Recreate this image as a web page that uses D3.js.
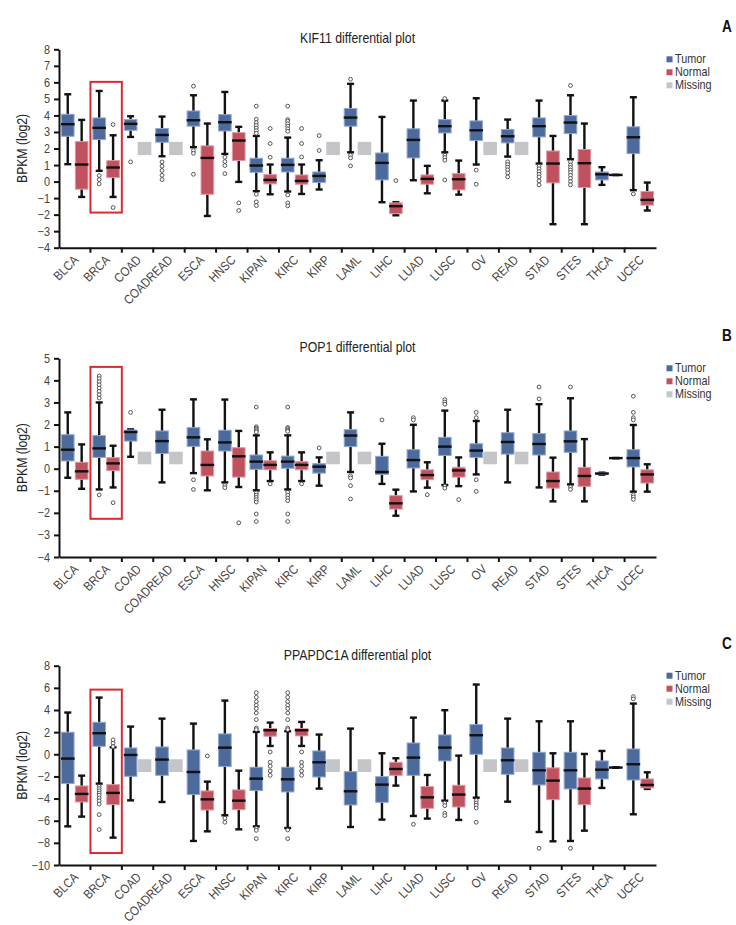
<!DOCTYPE html>
<html><head><meta charset="utf-8">
<script src="https://cdn.jsdelivr.net/npm/d3@7"></script>
<style>
body{margin:0;background:#fff;}
svg{display:block;font-family:"Liberation Sans",Arial,sans-serif;}
</style></head>
<body>
<svg id="chart" width="736" height="925"></svg>
<script>
const categories = ["BLCA","BRCA","COAD","COADREAD","ESCA","HNSC","KIPAN","KIRC","KIRP","LAML","LIHC","LUAD","LUSC","OV","READ","STAD","STES","THCA","UCEC"];
const legendLabels = ["Tumor","Normal","Missing"];

// each box: [whiskerLow, q1, median, q3, whiskerHigh]; null = missing
const kif11Tumor = [[1.05,2.74,3.47,4.07,5.28],[0.65,2.54,3.25,3.85,5.48],[2.70,3.10,3.49,3.75,3.95],[1.53,2.38,2.82,3.21,3.93],[2.08,3.35,3.71,4.27,5.22],[1.67,3.06,3.59,4.05,5.42],[-0.58,0.56,0.97,1.41,2.76],[-0.60,0.58,1.01,1.41,2.66],[-0.48,-0.06,0.34,0.58,1.29],[1.77,3.35,3.87,4.42,5.91],[-1.25,0.10,1.13,1.73,3.91],[0.08,1.43,2.52,3.19,4.90],[1.77,2.94,3.35,3.75,4.90],[1.03,2.48,3.10,3.67,5.04],[1.51,2.34,2.74,3.15,3.75],[1.09,2.70,3.35,3.85,4.90],[1.35,2.90,3.57,3.99,5.22],[-0.20,0.10,0.44,0.58,0.87],[-0.52,1.69,2.68,3.31,5.10]];
const kif11TumorOut = [[],[0.36,0.12,-0.14],[1.19],[1.19,0.93,0.67,0.38,0.12],[5.77,1.88,1.71,0.44],[1.47,1.21,0.97,0.48],[4.56,3.77,3.56,3.40,3.24,3.08,2.92,-0.77,-1.23,-1.45],[4.56,3.75,3.65,3.50,3.35,3.19,3.04,-0.81,-1.29,-1.47],[2.78,1.88],[6.19,1.59,1.43,0.95],[],[],[5.02,1.59,1.45,1.29,0.10],[0.69,-0.16],[1.19,1.03,0.87,0.71,0.52,0.28],[0.93,0.77,0.60,0.44,0.28,0.04,-0.20],[5.81,1.19,1.00,0.85,0.70,0.55,0.38,0.20,0.00,-0.20],[],[-0.75]];
const kif11Normal = [[-0.93,-0.46,1.03,2.42,3.73],[-0.93,0.24,0.85,1.27,2.80],null,null,[-2.08,-0.77,1.43,2.16,3.51],[-0.02,1.27,2.48,2.96,3.31],[-0.77,-0.14,0.10,0.42,1.03],[-0.75,-0.16,0.04,0.40,1.03],null,null,[-2.04,-1.94,-1.49,-1.29,-1.25],[-0.71,-0.16,0.16,0.40,0.95],[-0.79,-0.50,0.14,0.48,1.27],null,null,[-2.58,-0.08,1.09,1.85,2.76],[-2.58,-0.36,1.11,1.94,3.51],[0.40,0.40,0.40,0.40,0.40],[-1.75,-1.43,-1.11,-0.60,-0.06]];
const kif11NormalOut = [[],[3.45,-1.57],[],[],[],[-1.29,-1.75],[3.21,2.30,1.47],[3.21,2.30,1.49],[],[],[0.06],[],[],[],[],[],[],[],[]];
const kif11Missing = [1.6, 2.4];
const kif11Highlight = [-1.875, 6.03];
const kif11Ticks = [-4,-3,-2,-1,0,1,2,3,4,5,6,7,8];

const pop1Tumor = [[-0.41,0.35,0.86,1.54,2.55],[-0.94,0.51,0.92,1.50,3.00],[0.54,1.25,1.66,1.75,1.78],[-0.62,0.69,1.25,1.71,2.67],[-0.20,1.01,1.42,1.86,3.14],[-0.62,0.80,1.19,1.74,3.13],[-0.98,-0.03,0.32,0.62,1.51],[-0.94,0.02,0.32,0.57,1.51],[-0.77,-0.20,0.09,0.23,0.51],[-0.15,1.00,1.50,1.77,2.55],[-0.69,-0.26,-0.15,0.56,1.13],[-1.03,0.03,0.39,0.86,1.99],[-0.74,0.60,1.00,1.42,2.63],[-0.26,0.51,0.82,1.13,2.16],[-0.62,0.66,1.21,1.63,2.67],[-0.85,0.62,1.12,1.59,2.92],[-0.71,0.74,1.24,1.71,3.19],[-0.27,-0.26,-0.22,-0.19,-0.18],[-1.04,0.08,0.48,0.86,1.98]];
const pop1TumorOut = [[],[4.20,4.08,3.94,3.80,3.65,3.50,3.35,3.20,-1.19],[2.55],[],[-0.50,-0.94],[-0.76,-0.86],[2.79,1.90,1.84,1.78,1.72,1.66,-1.10,-1.20,-1.30,-1.40,-1.51,-2.05,-2.39],[2.79,1.87,1.81,1.75,1.69,-1.07,-1.20,-1.33,-1.45,-2.05,-2.39],[0.94],[-0.32,-0.42,-0.77,-1.37],[2.21],[2.31,2.21],[3.13,3.02,2.92,-0.79,-0.88],[2.55,2.31,-0.50,-1.03],[],[3.70,3.16],[3.70,-0.83,-0.94],[],[3.28,2.55,2.31,2.21,-1.18,-1.28,-1.39]];
const pop1Normal = [[-0.91,-0.48,-0.12,0.29,1.10],[-0.85,-0.09,0.24,0.50,1.04],null,null,[-0.98,-0.33,0.17,0.80,1.33],[-0.83,-0.38,0.56,0.95,1.71],[-0.56,-0.05,0.17,0.36,0.74],[-0.56,-0.05,0.17,0.32,0.74],null,null,[-2.13,-1.83,-1.57,-1.22,-0.95],[-0.86,-0.50,-0.29,-0.05,0.29],[-0.79,-0.38,-0.08,0.06,0.51],null,null,[-1.48,-0.88,-0.56,-0.15,0.50],[-1.48,-0.80,-0.33,0.06,1.34],[0.48,0.48,0.48,0.48,0.48],[-1.04,-0.65,-0.26,-0.05,0.20]];
const pop1NormalOut = [[],[-1.54],[],[],[],[-2.45],[-0.69],[-0.69],[],[],[],[-1.18],[-1.40],[],[],[],[],[],[]];
const pop1Missing = [0.2, 0.77];
const pop1Highlight = [-2.27, 4.61];
const pop1Ticks = [-4,-3,-2,-1,0,1,2,3,4,5];

const ppapTumor = [[-6.51,-2.65,-0.39,1.99,3.77],[-2.65,0.72,1.90,2.89,5.12],[-4.16,-1.99,-0.06,0.57,2.50],[-4.31,-1.90,-0.48,0.66,3.22],[-7.83,-3.64,-1.60,0.39,2.77],[-5.51,-1.11,0.60,1.84,4.85],[-6.51,-3.28,-2.20,-1.17,2.02],[-6.66,-3.40,-2.26,-1.17,2.08],[-3.10,-2.05,-0.72,0.30,1.78],[-6.57,-4.58,-3.34,-1.57,2.32],[-5.90,-4.34,-2.74,-2.02,0.09],[-5.57,-1.90,-0.30,1.02,3.31],[-4.19,-0.60,0.60,1.75,3.98],[-3.92,0.00,1.72,2.68,6.30],[-4.28,-1.81,-0.54,0.57,3.22],[-7.02,-2.77,-1.45,0.18,2.98],[-7.83,-3.13,-1.45,0.18,2.98],[-3.04,-2.23,-1.39,-0.60,0.30],[-5.42,-2.32,-0.90,0.48,4.58]];
const ppapTumorOut = [[],[-2.90,-3.10,-3.30,-3.50,-3.70,-3.95,-4.20,-4.50,-5.45,-6.80],[],[],[],[-5.78,-6.14],[5.57,5.15,4.76,4.43,4.13,3.73,3.13,2.38,2.23,-6.69,-6.87,-7.62],[5.57,5.15,4.76,4.43,4.13,3.73,3.13,2.38,2.23,-6.84,-7.62],[],[],[],[-6.33],[-4.40,-4.64,-5.33,-5.54],[-4.16,-4.40,-4.60,-4.85,-6.14],[],[-8.49],[-8.49],[],[5.21,5.00]];
const ppapNormal = [[-5.63,-4.31,-3.58,-2.86,-1.93],[-7.53,-4.55,-3.49,-2.74,0.63],null,null,[-6.96,-5.03,-4.07,-3.31,-2.47],[-6.78,-5.00,-4.19,-3.22,-1.48],[0.75,1.63,2.17,2.32,2.86],[0.75,1.66,2.17,2.32,2.92],null,null,[-2.83,-1.90,-1.33,-0.72,-0.36],[-5.81,-4.88,-3.89,-2.92,-1.87],[-5.93,-4.76,-3.64,-2.80,-0.12],null,null,[-7.86,-4.10,-2.38,-1.23,0.09],[-6.90,-4.55,-3.10,-2.14,0.03],[-1.20,-1.20,-1.20,-1.20,-1.20],[-3.13,-3.04,-2.77,-2.23,-1.63]];
const ppapNormalOut = [[],[1.30,1.00,0.70],[],[],[-0.15],[],[0.21,-0.72,-1.08,-1.51,-1.90],[0.21,-0.72,-1.08,-1.51,-1.90],[],[],[],[],[],[],[],[],[],[],[]];
const ppapMissing = [-1.6, -0.45];
const ppapHighlight = [-8.92, 5.84];
const ppapTicks = [-10,-8,-6,-4,-2,0,2,4,6,8];

const panels = [
  {title:"KIF11 differential plot", letter:"A", top:49.3, bottom:247.7, tumor:kif11Tumor, tumorOut:kif11TumorOut, normal:kif11Normal, normalOut:kif11NormalOut, missing:kif11Missing, hl:kif11Highlight, ticks:kif11Ticks},
  {title:"POP1 differential plot", letter:"B", top:358.3, bottom:557, tumor:pop1Tumor, tumorOut:pop1TumorOut, normal:pop1Normal, normalOut:pop1NormalOut, missing:pop1Missing, hl:pop1Highlight, ticks:pop1Ticks},
  {title:"PPAPDC1A differential plot", letter:"C", top:665.7, bottom:865, tumor:ppapTumor, tumorOut:ppapTumorOut, normal:ppapNormal, normalOut:ppapNormalOut, missing:ppapMissing, hl:ppapHighlight, ticks:ppapTicks}
];

const colors = {Tumor:{fill:"#4d6a9d", stroke:"#93a8cf"}, Normal:{fill:"#c0525f", stroke:"#e09aa2"}, Missing:{fill:"#c4c5c8", stroke:"#c4c5c8"}};
const SX = 0.87; // condensed look

const svg = d3.select("#chart");
const x = d3.scaleBand().domain(categories).range([59, 656]).padding(0);
const xs = d3.scaleBand().domain(["Tumor","Normal"]).range([0, x.bandwidth()]).paddingInner(0.02).paddingOuter(0.14);
const bw = xs.bandwidth();

panels.forEach(p => {
  const ext = d3.extent(p.ticks);
  const y = d3.scaleLinear().domain(ext).range([p.bottom, p.top]);
  const g = svg.append("g");

  // title
  g.append("text").attr("transform", `translate(357.5,${p.top - 6}) scale(0.88,1)`).attr("text-anchor","middle")
    .attr("font-size", 14).attr("fill","#222").text(p.title);
  // panel letter
  g.append("text").attr("transform", `translate(727,${p.top - 17}) scale(0.85,1)`).attr("text-anchor","middle")
    .attr("font-size", 16).attr("font-weight","bold").attr("fill","#111").text(p.letter);

  // y axis label
  g.append("text").attr("transform", `translate(27,${(p.top+p.bottom)/2}) rotate(-90) scale(${SX},1)`)
    .attr("text-anchor","middle").attr("font-size", 14).attr("fill","#222").text("BPKM (log2)");

  // boxes
  const series = [["Tumor", p.tumor, p.tumorOut], ["Normal", p.normal, p.normalOut]];
  series.forEach(([name, data, outs]) => {
    categories.forEach((c, i) => {
      const x0 = x(c) + xs(name);
      const cx = x0 + bw/2;
      const d = data[i];
      if (d === null) {
        g.append("rect").attr("x", x0).attr("width", bw)
          .attr("y", y(p.missing[1])).attr("height", y(p.missing[0]) - y(p.missing[1]))
          .attr("fill", colors.Missing.fill);
        return;
      }
      const [lo, q1, med, q3, hi] = d;
      g.append("line").attr("x1", cx).attr("x2", cx).attr("y1", y(hi)).attr("y2", y(lo))
        .attr("stroke","#111").attr("stroke-width", 2.4);
      [lo, hi].forEach(v => g.append("line").attr("x1", cx - 3.5).attr("x2", cx + 3.5)
        .attr("y1", y(v)).attr("y2", y(v)).attr("stroke","#111").attr("stroke-width", 2.4));
      if (q3 > q1) {
        g.append("rect").attr("x", x0 + 0.5).attr("width", bw - 1)
          .attr("y", y(q3)).attr("height", y(q1) - y(q3))
          .attr("fill", colors[name].fill).attr("stroke", colors[name].stroke).attr("stroke-width", 1);
      }
      g.append("line").attr("x1", x0).attr("x2", x0 + bw).attr("y1", y(med)).attr("y2", y(med))
        .attr("stroke","#111").attr("stroke-width", 2.4);
      outs[i].forEach(v => g.append("circle").attr("cx", cx).attr("cy", y(v)).attr("r", 1.9)
        .attr("fill","#fff").attr("stroke","#444").attr("stroke-width", 0.9));
    });
  });

  // highlight rectangle around BRCA
  g.append("rect").attr("x", x("BRCA")).attr("width", x.bandwidth())
    .attr("y", y(p.hl[1])).attr("height", y(p.hl[0]) - y(p.hl[1]))
    .attr("fill","none").attr("stroke","#dc2b30").attr("stroke-width", 2);

  // y axis
  const ya = g.append("g").attr("transform","translate(59,0)")
    .call(d3.axisLeft(y).tickValues(p.ticks).tickSize(5).tickSizeOuter(0).tickPadding(3));
  ya.select(".domain").attr("stroke","#111").attr("stroke-width", 2);
  ya.selectAll(".tick line").attr("stroke","#111").attr("stroke-width", 2);
  ya.selectAll(".tick text").attr("font-size", 12.5).attr("fill","#444")
    .attr("font-family",'"Liberation Sans",Arial,sans-serif')
    .attr("x", 0).attr("transform", `translate(-9,0) scale(${SX},1)`);

  // x axis
  const xa = g.append("g").attr("transform", `translate(0,${p.bottom})`)
    .call(d3.axisBottom(x).tickSize(0).tickSizeOuter(0).tickPadding(0));
  xa.select(".domain").attr("stroke","#111").attr("stroke-width", 2);
  xa.selectAll(".tick text").attr("font-size", 12.8).attr("fill","#444")
    .attr("font-family",'"Liberation Sans",Arial,sans-serif')
    .attr("text-anchor","end").attr("dy", null).attr("y", 0)
    .attr("transform",`translate(4.5,13) rotate(-45) scale(${SX},1)`);
  categories.slice(1).forEach(c => {
    xa.append("line").attr("x1", x(c)).attr("x2", x(c)).attr("y1", 0).attr("y2", 5)
      .attr("stroke","#111").attr("stroke-width", 2);
  });

  // legend
  legendLabels.forEach((l, k) => {
    const ly = p.top + 10 + k * 13;
    g.append("rect").attr("x", 666.5).attr("y", ly - 3).attr("width", 6).attr("height", 6)
      .attr("fill", colors[l].fill);
    g.append("text").attr("transform", `translate(675,${ly + 4}) scale(0.9,1)`)
      .attr("font-size", 12).attr("fill","#333").text(l);
  });
});
</script>
</body></html>
